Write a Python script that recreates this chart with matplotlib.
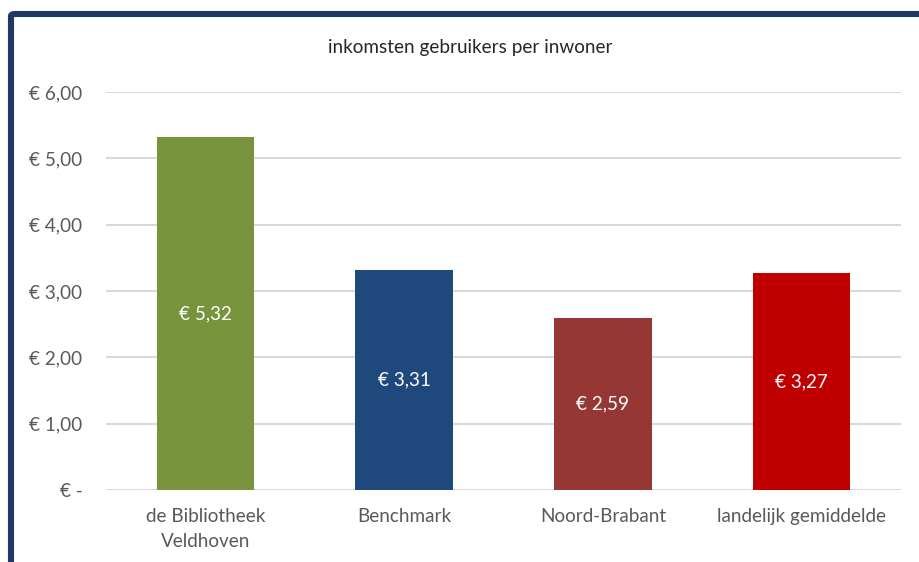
import matplotlib.pyplot as plt
from matplotlib.patches import FancyBboxPatch

categories = ['de Bibliotheek\nVeldhoven', 'Benchmark', 'Noord-Brabant', 'landelijk gemiddelde']
values = [5.32, 3.31, 2.59, 3.27]
value_labels = ['€ 5,32', '€ 3,31', '€ 2,59', '€ 3,27']
bar_colors = ['#77933C', '#1F497D', '#953735', '#C00000']
yticks = [0, 1, 2, 3, 4, 5, 6]
ytick_labels = ['€ -', '€ 1,00', '€ 2,00', '€ 3,00', '€ 4,00', '€ 5,00', '€ 6,00']

plt.rcParams['font.family'] = ['Lato', 'DejaVu Sans']

W, H = 920, 562
fs = 13.6
fig = plt.figure(figsize=(W / 100, H / 100), dpi=100)
ax = fig.add_axes([106 / W, 1 - 490 / H, (901 - 106) / W, (490 - 92) / H])

x = range(len(categories))
ax.bar(x, values, width=0.49, color=bar_colors, zorder=3)
for xi, v, lab in zip(x, values, value_labels):
    ax.text(xi, v / 2, lab, ha='center', va='center', color='white', fontsize=fs, zorder=4)

ax.set_xlim(-0.5, len(categories) - 0.5)
ax.set_ylim(0, 6)
ax.set_yticks(yticks)
ax.set_yticklabels(ytick_labels)
ax.set_xticks(list(x))
ax.set_xticklabels(categories, linespacing=1.55)
ax.grid(axis='y', color='#D9D9D9', linewidth=1.5, zorder=0)
ax.tick_params(axis='both', length=0, labelsize=fs, colors='#595959')
ax.tick_params(axis='y', pad=17)
ax.tick_params(axis='x', pad=13)
for s in ax.spines.values():
    s.set_visible(False)

fig.text(470 / W, 1 - 47 / H, 'inkomsten gebruikers per inwoner', ha='center', va='center',
         fontsize=fs, color='#262626')

# dark frame round the chart, partly cut off at right and bottom
frame = FancyBboxPatch((11 / W, -0.2), 1.2, 1.2 - 14 / H, boxstyle='round,pad=0,rounding_size=0.004',
                       transform=fig.transFigure, fill=False, edgecolor='#203864', linewidth=4.4)
fig.patches.append(frame)

fig.savefig('out.png', dpi=100)
